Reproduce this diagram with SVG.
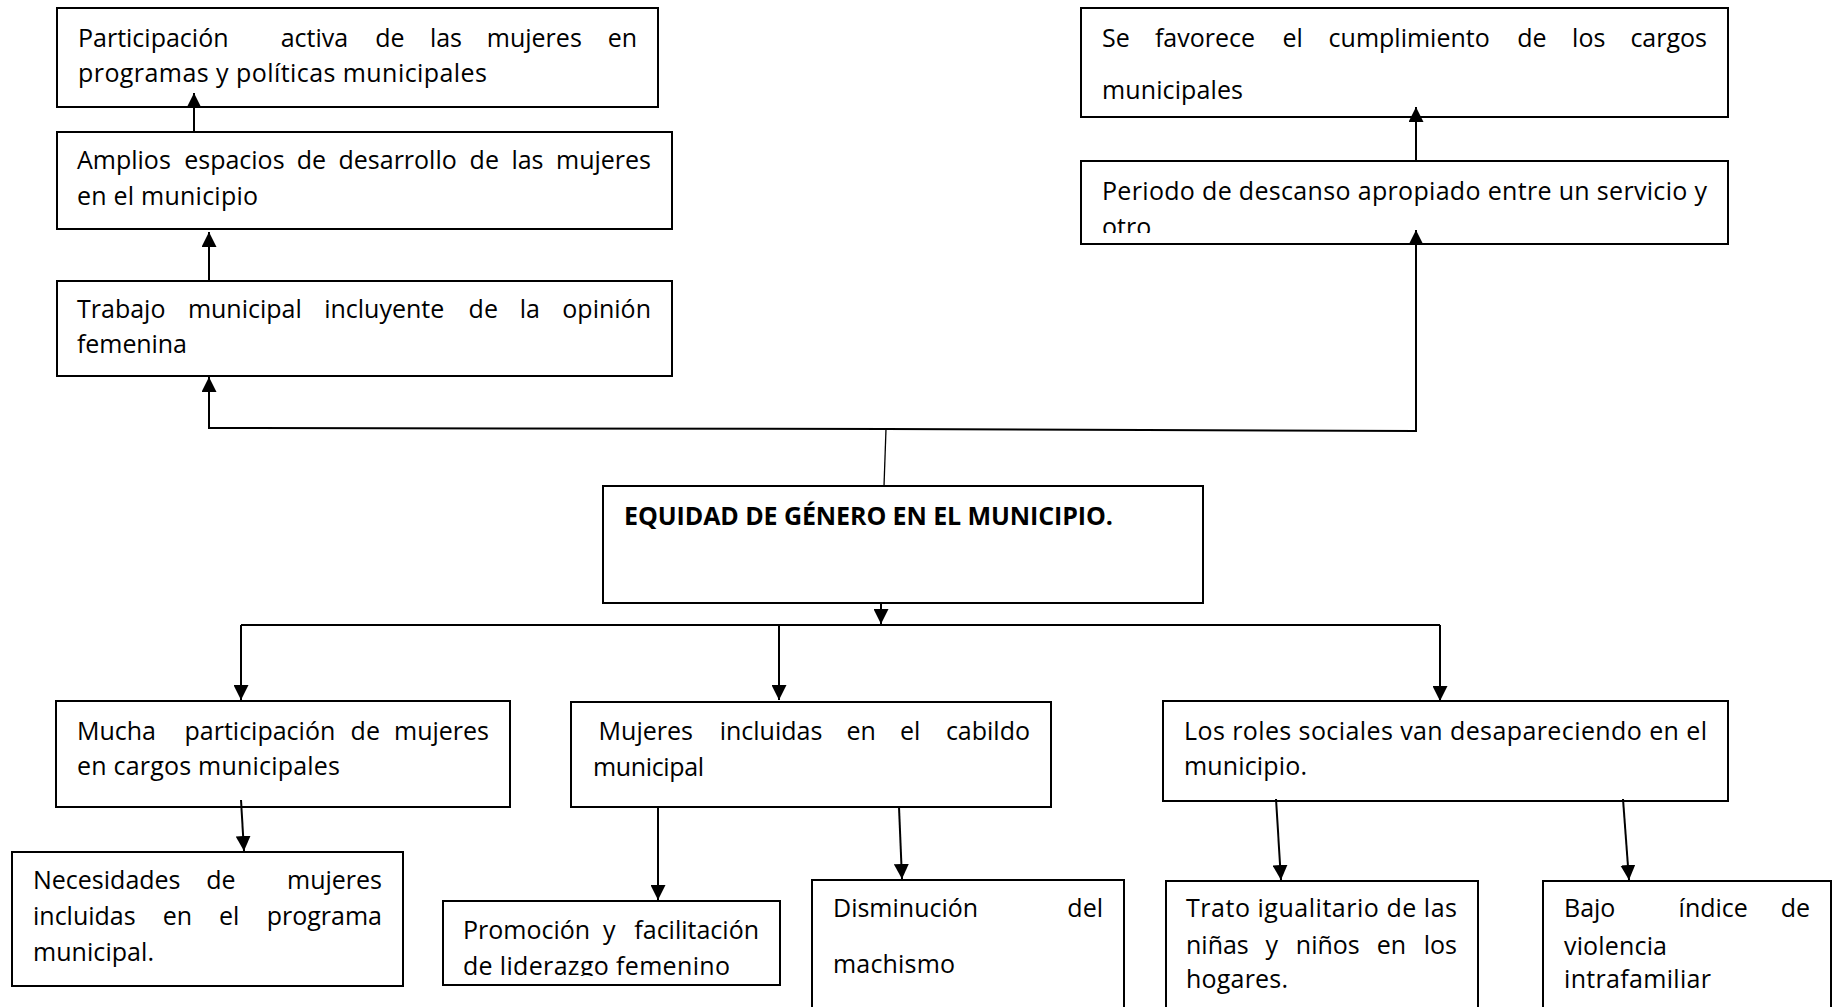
<svg xmlns="http://www.w3.org/2000/svg" width="1842" height="1007" viewBox="0 0 1842 1007">
<style>
.box{fill:#fff;stroke:#000;stroke-width:2}
.t{font-family:"Open Sans","Liberation Sans",sans-serif;font-size:25px;fill:#000}
.b{font-weight:bold}
.c{fill:none;stroke:#000;stroke-width:2}
.thin{fill:none;stroke:#000;stroke-width:1.3}
</style>
<defs>
<marker id="ah" markerUnits="userSpaceOnUse" markerWidth="15" markerHeight="15" refX="15" refY="7.5" orient="auto">
<path d="M0,0 L15,7.5 L0,15 z" fill="#000"/>
</marker>
<clipPath id="clipD"><rect x="1082" y="162" width="645" height="71"/></clipPath>
<clipPath id="clipP"><rect x="444" y="902" width="335" height="74"/></clipPath>
</defs>
<rect width="1842" height="1007" fill="#fff"/>

<g id="nA">
<rect class="box" x="57" y="8" width="601" height="99"/>
<text class="t" y="47"><tspan x="78">Participación</tspan><tspan x="280.7">activa</tspan><tspan x="375.2">de</tspan><tspan x="429.9">las</tspan><tspan x="486.8">mujeres</tspan><tspan x="637" text-anchor="end">en</tspan></text>
<text class="t" x="78" y="82" textLength="409">programas y políticas municipales</text>
</g>

<g id="nB">
<rect class="box" x="57" y="132" width="615" height="97"/>
<text class="t" y="169"><tspan x="77">Amplios</tspan><tspan x="184.2">espacios</tspan><tspan x="296.7">de</tspan><tspan x="338.5">desarrollo</tspan><tspan x="469.6">de</tspan><tspan x="511.4">las</tspan><tspan x="651" text-anchor="end">mujeres</tspan></text>
<text class="t" x="77" y="205" textLength="181">en el municipio</text>
</g>

<g id="nC">
<rect class="box" x="57" y="281" width="615" height="95"/>
<text class="t" y="318"><tspan x="77">Trabajo</tspan><tspan x="187.9">municipal</tspan><tspan x="324.2">incluyente</tspan><tspan x="468.6">de</tspan><tspan x="519.7">la</tspan><tspan x="651" text-anchor="end">opinión</tspan></text>
<text class="t" x="77" y="353" textLength="110">femenina</text>
</g>

<g id="nE">
<rect class="box" x="1081" y="8" width="647" height="109"/>
<text class="t" y="47"><tspan x="1102">Se</tspan><tspan x="1154.9">favorece</tspan><tspan x="1282.4">el</tspan><tspan x="1328.6">cumplimiento</tspan><tspan x="1517.3">de</tspan><tspan x="1572.1">los</tspan><tspan x="1707" text-anchor="end">cargos</tspan></text>
<text class="t" x="1102" y="99" textLength="141">municipales</text>
</g>

<g id="nD">
<rect class="box" x="1081" y="161" width="647" height="83"/>
<text class="t" x="1102" y="200" textLength="605">Periodo de descanso apropiado entre un servicio y</text>
<text class="t" x="1102" y="236" clip-path="url(#clipD)">otro</text>
</g>

<g id="nCenter">
<rect class="box" x="603" y="486" width="600" height="117"/>
<text class="t b" x="624" y="525" textLength="489">EQUIDAD DE GÉNERO EN EL MUNICIPIO.</text>
</g>

<g id="nMucha">
<rect class="box" x="56" y="701" width="454" height="106"/>
<text class="t" y="740"><tspan x="77">Mucha</tspan><tspan x="184.5">participación</tspan><tspan x="350.6">de</tspan><tspan x="489" text-anchor="end">mujeres</tspan></text>
<text class="t" x="77" y="775" textLength="263">en cargos municipales</text>
</g>

<g id="nMujeres">
<rect class="box" x="571" y="702" width="480" height="105"/>
<text class="t" y="740"><tspan x="598.6">Mujeres</tspan><tspan x="719.7">incluidas</tspan><tspan x="846.5">en</tspan><tspan x="900">el</tspan><tspan x="1030" text-anchor="end">cabildo</tspan></text>
<text class="t" x="593" y="776" textLength="111">municipal</text>
</g>

<g id="nRoles">
<rect class="box" x="1163" y="701" width="565" height="100"/>
<text class="t" x="1184" y="740" textLength="523">Los roles sociales van desapareciendo en el</text>
<text class="t" x="1184" y="775" textLength="123">municipio.</text>
</g>

<g id="nNec">
<rect class="box" x="12" y="852" width="391" height="134"/>
<text class="t" y="889"><tspan x="33">Necesidades</tspan><tspan x="206.2">de</tspan><tspan x="382" text-anchor="end">mujeres</tspan></text>
<text class="t" y="925"><tspan x="33">incluidas</tspan><tspan x="162.7">en</tspan><tspan x="219">el</tspan><tspan x="382" text-anchor="end">programa</tspan></text>
<text class="t" x="33" y="961" textLength="121">municipal.</text>
</g>

<g id="nProm">
<rect class="box" x="443" y="901" width="337" height="84"/>
<text class="t" y="939"><tspan x="463">Promoción</tspan><tspan x="603">y</tspan><tspan x="759" text-anchor="end">facilitación</tspan></text>
<text class="t" x="463" y="975" textLength="267" clip-path="url(#clipP)">de liderazgo femenino</text>
</g>

<g id="nDism">
<rect class="box" x="812" y="880" width="312" height="140"/>
<text class="t" y="917"><tspan x="833">Disminución</tspan><tspan x="1103" text-anchor="end">del</tspan></text>
<text class="t" x="833" y="973" textLength="122">machismo</text>
</g>

<g id="nTrato">
<rect class="box" x="1166" y="881" width="312" height="140"/>
<text class="t" x="1186" y="917" textLength="271">Trato igualitario de las</text>
<text class="t" y="954"><tspan x="1186">niñas</tspan><tspan x="1265.5">y</tspan><tspan x="1295.8">niños</tspan><tspan x="1376.7">en</tspan><tspan x="1457" text-anchor="end">los</tspan></text>
<text class="t" x="1186" y="988" textLength="102">hogares.</text>
</g>

<g id="nBajo">
<rect class="box" x="1543" y="881" width="288" height="140"/>
<text class="t" y="917"><tspan x="1564">Bajo</tspan><tspan x="1678.6">índice</tspan><tspan x="1810" text-anchor="end">de</tspan></text>
<text class="t" x="1564" y="955" textLength="103">violencia</text>
<text class="t" x="1564" y="988" textLength="147">intrafamiliar</text>
</g>

<g id="connectors">
<path class="c" d="M194,132 L194,93" marker-end="url(#ah)"/>
<path class="c" d="M209,281 L209,232" marker-end="url(#ah)"/>
<path class="thin" d="M884,486 L886,429"/>
<path class="c" d="M886,429 L209,428 L209,377" marker-end="url(#ah)"/>
<path class="c" d="M886,429 L1416,431 L1416,230" marker-end="url(#ah)"/>
<path class="c" d="M1416,161 L1416,107" marker-end="url(#ah)"/>
<path class="c" d="M881,603 L881,624" marker-end="url(#ah)"/>
<path class="c" d="M241,625 L1440,625"/>
<path class="c" d="M241,625 L241,700" marker-end="url(#ah)"/>
<path class="c" d="M779,625 L779,700" marker-end="url(#ah)"/>
<path class="c" d="M1440,625 L1440,701" marker-end="url(#ah)"/>
<path class="c" d="M241,800 L244,851" marker-end="url(#ah)"/>
<path class="c" d="M658,807 L658,900" marker-end="url(#ah)"/>
<path class="c" d="M899,807 L902,879" marker-end="url(#ah)"/>
<path class="c" d="M1276,799 L1281,880" marker-end="url(#ah)"/>
<path class="c" d="M1623,799 L1629,880" marker-end="url(#ah)"/>
</g>
</svg>
